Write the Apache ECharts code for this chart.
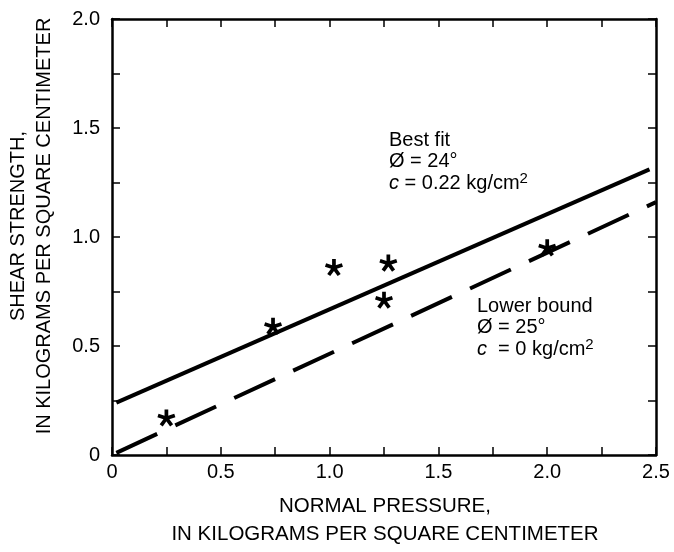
<!DOCTYPE html>
<html>
<head>
<meta charset="utf-8">
<script src="https://cdn.jsdelivr.net/npm/echarts@6/dist/echarts.min.js"></script>
<style>
html,body{margin:0;padding:0;background:#fff;}
#chart{width:674px;height:552px;}
</style>
</head>
<body>
<div id="chart"></div>
<script>
// Data
var pointsX = [0.25, 0.74, 1.02, 1.27, 1.25, 2.00];
var pointsY = [0.17, 0.59, 0.86, 0.88, 0.71, 0.95];
var bestFitX = [0.02, 2.47];
var bestFitY = [0.24, 1.31];
var lowerBoundX = [0.02, 2.5];
var lowerBoundY = [0.01, 1.16];
var xTitle = ['NORMAL PRESSURE,', 'IN KILOGRAMS PER SQUARE CENTIMETER'];
var yTitle = ['SHEAR STRENGTH,', 'IN KILOGRAMS PER SQUARE CENTIMETER'];

function zip(a, b) { return a.map(function (v, i) { return [v, b[i]]; }); }

// asterisk symbol (5 arms)
function asteriskPath() {
  var r = 10, w = 2.1, d = '';
  for (var k = 0; k < 5; k++) {
    var a = (-90 + 72 * k) * Math.PI / 180;
    var ux = Math.cos(a), uy = Math.sin(a), px = -uy, py = ux;
    var p1 = [px * w, py * w], p2 = [ux * r + px * w, uy * r + py * w],
        p3 = [ux * r - px * w, uy * r - py * w], p4 = [-px * w, -py * w];
    d += 'M' + p1.join(',') + 'L' + p2.join(',') + 'L' + p3.join(',') + 'L' + p4.join(',') + 'Z';
  }
  return 'path://' + d;
}

var FONT = '"Liberation Sans", Arial, Helvetica, sans-serif';
function fmt(v) {
  var m = Math.round(v * 100);
  if (m % 50 !== 0) return '';
  return v === 0 ? '0' : v.toFixed(1);
}
var axisCommon = {
  type: 'value', interval: 0.25,
  axisLine: { show: true, onZero: false, lineStyle: { color: '#000', width: 2.5 } },
  axisTick: { show: true, inside: true, length: 8, lineStyle: { color: '#000', width: 1.5 } },
  splitLine: { show: false },
  axisLabel: { color: '#000', fontFamily: FONT, fontSize: 20, formatter: fmt }
};
function ax(extra) { return Object.assign(JSON.parse(JSON.stringify(axisCommon)), { axisLabel: Object.assign({}, axisCommon.axisLabel) }, extra); }

var chart = echarts.init(document.getElementById('chart'));
var xa1 = ax({ min: 0, max: 2.5, position: 'bottom' }); xa1.axisLabel.margin = 7;
var xa2 = ax({ min: 0, max: 2.5, position: 'top' }); xa2.axisLabel.show = false;
var ya1 = ax({ min: 0, max: 2.0, position: 'left' }); ya1.axisLabel.margin = 12;
var ya2 = ax({ min: 0, max: 2.0, position: 'right' }); ya2.axisLabel.show = false;

function t(size) { return { fill: '#000', fontFamily: FONT, fontSize: size, textVerticalAlign: 'middle' }; }
var cRich = {
  i: { fontStyle: 'italic', fontFamily: FONT, fontSize: 20 },
  s: { fontSize: 15, fontFamily: FONT, padding: [0, 0, 9, 0] }
};

chart.setOption({
  animation: false,
  backgroundColor: '#fff',
  grid: { left: 112, right: 18, top: 19, bottom: 97 },
  xAxis: [xa1, xa2],
  yAxis: [ya1, ya2],
  series: [
    {
      type: 'line', data: zip(bestFitX, bestFitY), symbol: 'none',
      lineStyle: { color: '#000', width: 4 }
    },
    {
      type: 'line', data: zip(lowerBoundX, lowerBoundY), symbol: 'none',
      lineStyle: { color: '#000', width: 4, type: [45, 20] }
    },
    {
      type: 'scatter', data: zip(pointsX, pointsY), symbol: asteriskPath(),
      symbolSize: 18, symbolKeepAspect: true,
      itemStyle: { color: '#000', opacity: 1 }, z: 5
    }
  ],
  graphic: [
    { type: 'text', x: 389, y: 140, style: Object.assign(t(20), { text: 'Best fit' }) },
    { type: 'text', x: 389, y: 161, style: Object.assign(t(20), { text: 'Ø = 24°' }) },
    { type: 'text', x: 389, y: 183, style: Object.assign(t(20), { text: '{i|c} = 0.22 kg/cm{s|2}', rich: cRich }) },
    { type: 'text', x: 477, y: 306, style: Object.assign(t(20), { text: 'Lower bound' }) },
    { type: 'text', x: 477, y: 327, style: Object.assign(t(20), { text: 'Ø = 25°' }) },
    { type: 'text', x: 477, y: 349, style: Object.assign(t(20), { text: '{i|c}  = 0 kg/cm{s|2}', rich: cRich }) },
    { type: 'text', x: 385, y: 506, style: Object.assign(t(20.5), { text: xTitle[0], textAlign: 'center' }) },
    { type: 'text', x: 385, y: 534, style: Object.assign(t(20.5), { text: xTitle[1], textAlign: 'center' }) },
    { type: 'text', x: 18, y: 226, rotation: Math.PI / 2, style: Object.assign(t(20), { text: yTitle[0], textAlign: 'center' }) },
    { type: 'text', x: 44, y: 226, rotation: Math.PI / 2, style: Object.assign(t(20), { text: yTitle[1], textAlign: 'center' }) }
  ]
});
</script>
</body>
</html>
